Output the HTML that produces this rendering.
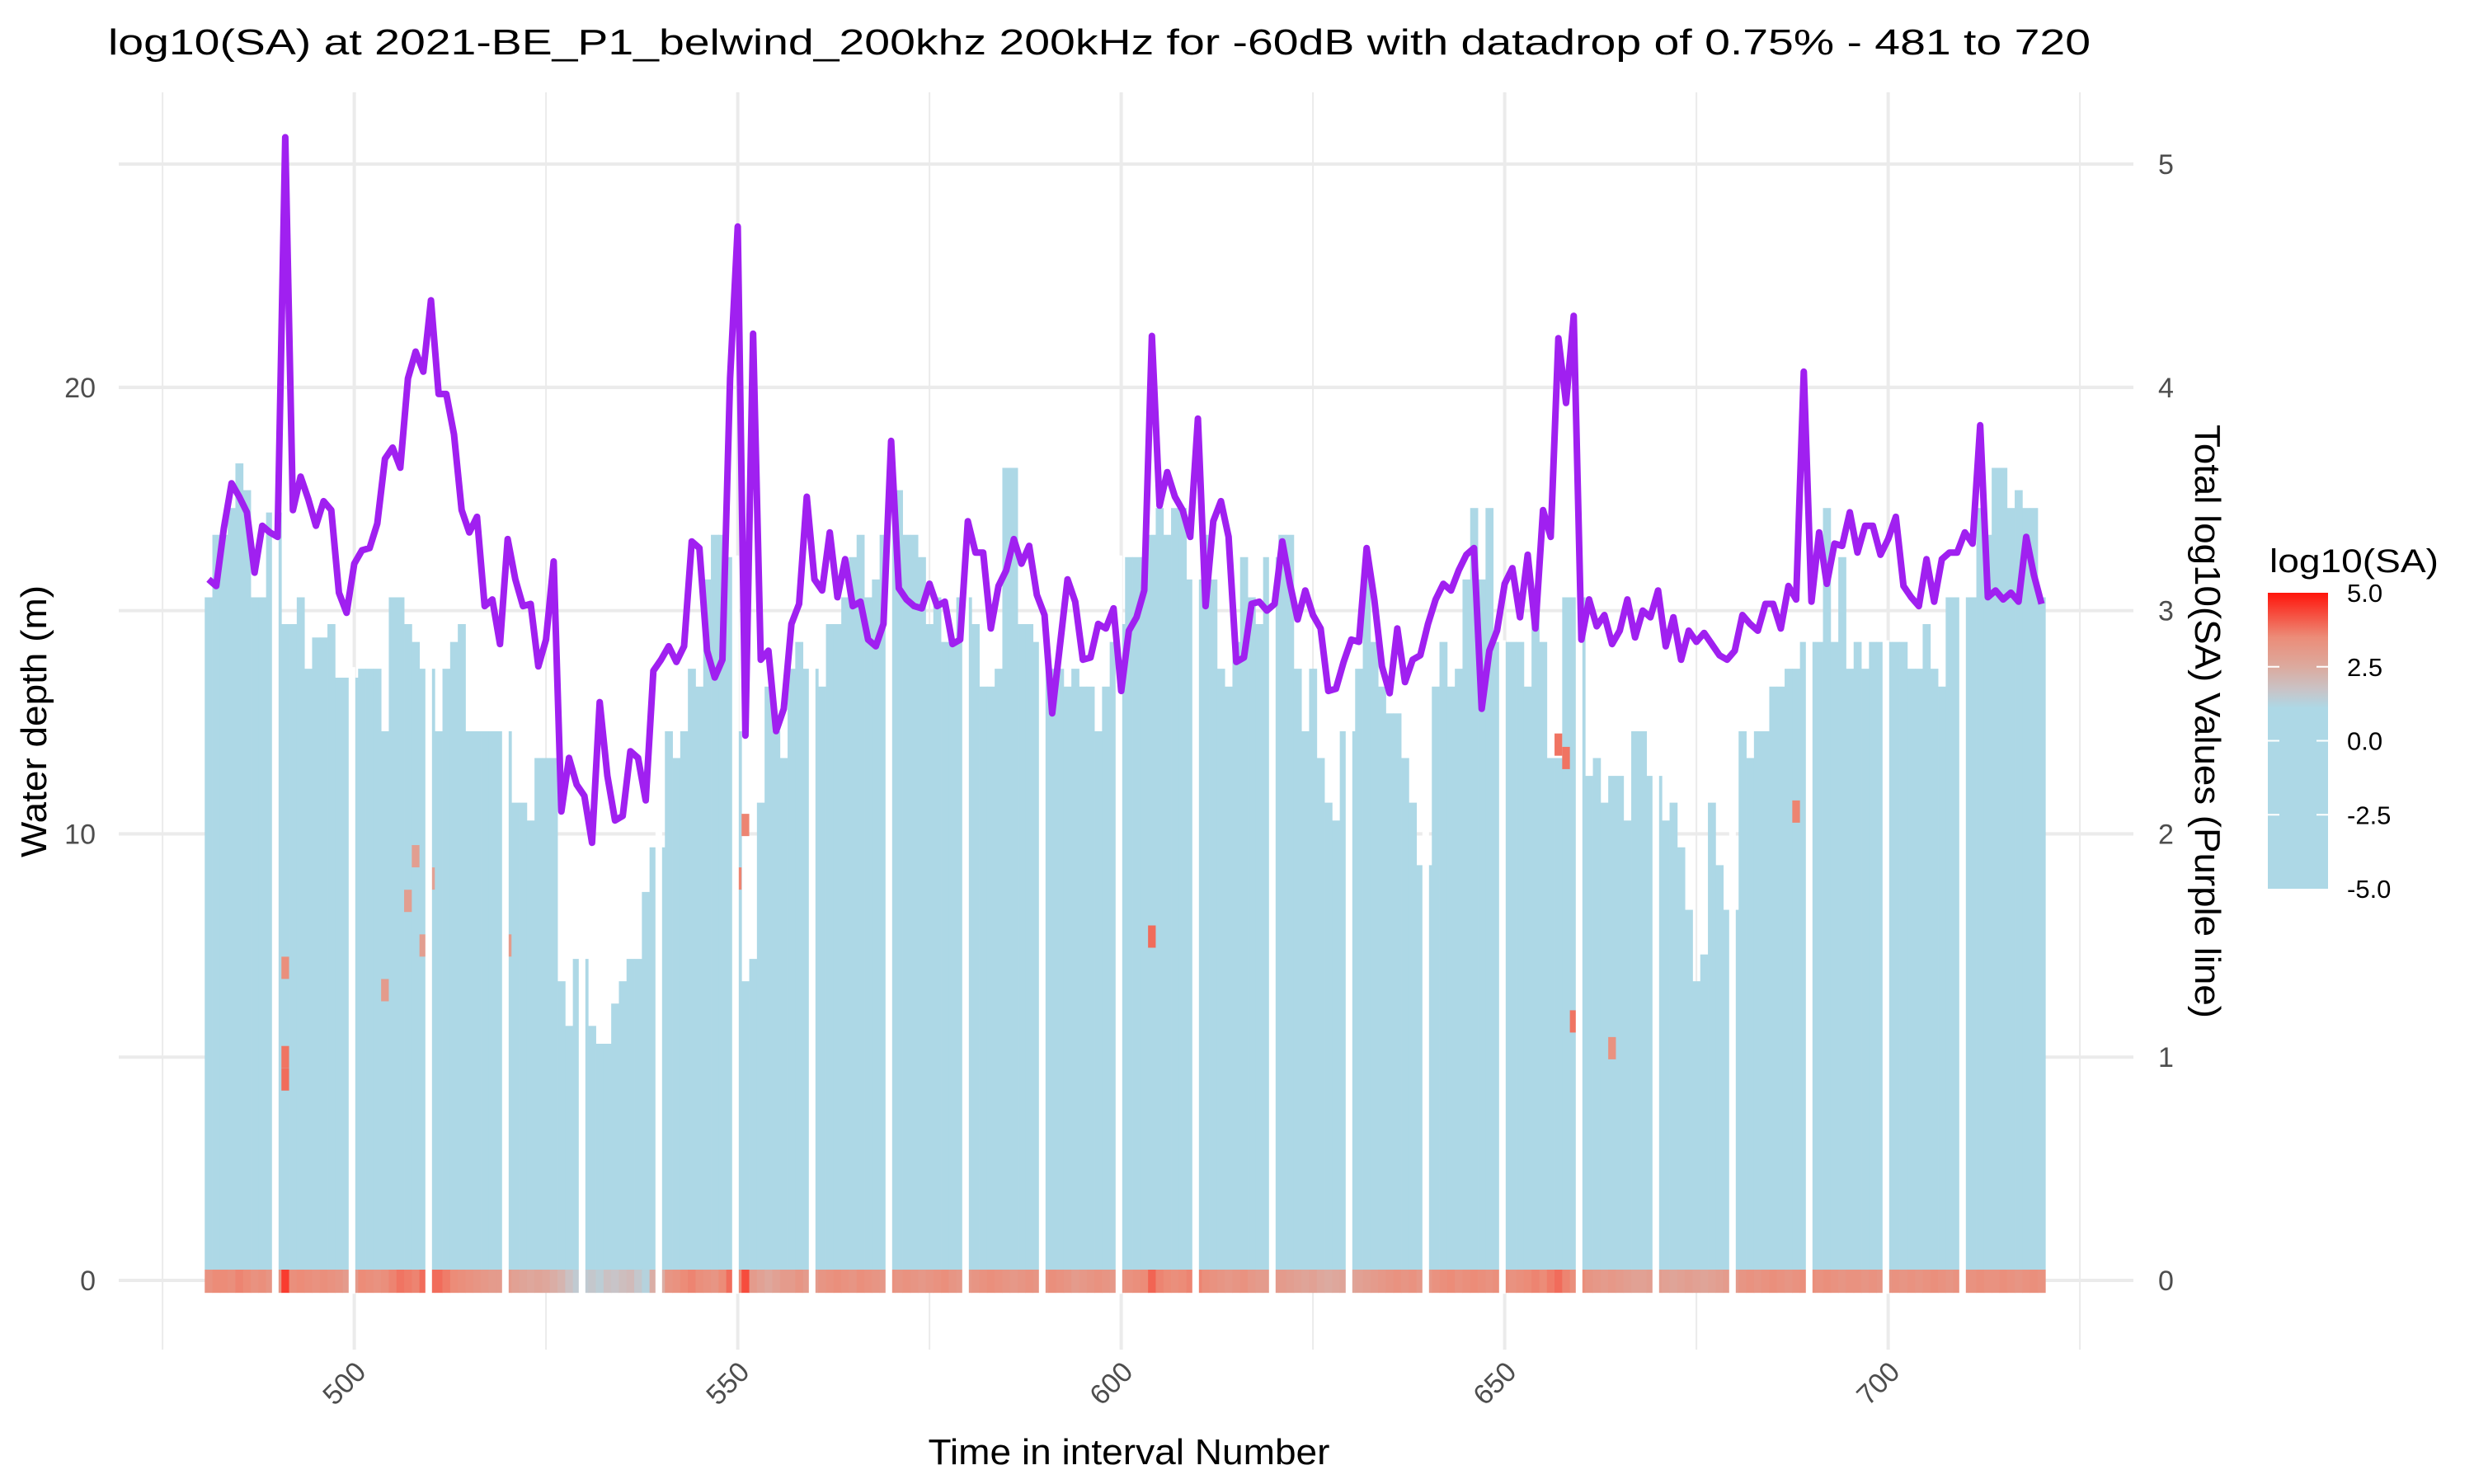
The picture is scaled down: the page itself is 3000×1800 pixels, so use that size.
<!DOCTYPE html>
<html><head><meta charset="utf-8"><style>
html,body{margin:0;padding:0;background:#fff}
svg{display:block;font-family:"Liberation Sans",Arial,sans-serif}
</style></head><body>
<svg id="chart" width="3000" height="1800" viewBox="0 0 3000 1800" xmlns="http://www.w3.org/2000/svg">
<rect x="0" y="0" width="3000" height="1800" fill="#fff"/>
<text x="131" y="66" font-size="44" textLength="2404" lengthAdjust="spacingAndGlyphs" fill="#000">log10(SA) at 2021-BE_P1_belwind_200khz 200kHz for -60dB with datadrop of 0.75% - 481 to 720</text>
<g id="grid"></g>
<g id="heat"></g>
<g id="lineg"></g>
<g id="axes"></g>
<text x="1369" y="1776" font-size="44" text-anchor="middle" textLength="487" lengthAdjust="spacingAndGlyphs" fill="#000">Time in interval Number</text>
<text transform="translate(56,875) rotate(-90)" font-size="44" text-anchor="middle" textLength="330" lengthAdjust="spacingAndGlyphs" fill="#000">Water depth (m)</text>
<text transform="translate(2662,875) rotate(90)" font-size="44" text-anchor="middle" textLength="720" lengthAdjust="spacingAndGlyphs" fill="#000">Total log10(SA) Values (Purple line)</text>
<g id="legend">
<defs><linearGradient id="lg" x1="0" y1="1" x2="0" y2="0">
<stop offset="0" stop-color="#add8e6"/><stop offset="0.61" stop-color="#add8e6"/><stop offset="0.67" stop-color="#c8c4c8"/><stop offset="0.75" stop-color="#dcaa9e"/><stop offset="0.85" stop-color="#ec8c78"/><stop offset="1" stop-color="#ff140a"/>
</linearGradient></defs>
<text x="2752" y="694" font-size="40" textLength="205" lengthAdjust="spacingAndGlyphs" fill="#000">log10(SA)</text>
<rect x="2750" y="719" width="73" height="359" fill="url(#lg)"/>
</g>
</svg>
<script>
const categories = [];
for (let i = 481; i <= 720; i++) categories.push(i);
const lineValues = [3.14,3.11,3.37,3.57,3.51,3.44,3.17,3.38,3.35,3.33,
5.12,3.45,3.6,3.5,3.38,3.49,3.45,3.08,2.99,3.21,
3.27,3.28,3.39,3.68,3.73,3.64,4.04,4.16,4.07,4.39,
3.97,3.97,3.79,3.45,3.35,3.42,3.02,3.05,2.85,3.32,
3.14,3.02,3.03,2.75,2.87,3.22,2.1,2.34,2.22,2.17,1.96,
2.59,2.26,2.06,2.08,2.37,2.34,2.15,2.73,2.78,2.84,
2.77,2.84,3.31,3.28,2.82,2.7,2.78,4.04,4.72,2.44,
4.24,2.78,2.82,2.46,2.56,2.94,3.03,3.51,3.14,3.09,
3.35,3.06,3.23,3.02,3.04,2.87,2.84,2.94,3.76,3.1,
3.05,3.02,3.01,3.12,3.02,3.04,2.85,2.87,3.4,3.26,
3.26,2.92,3.11,3.18,3.32,3.21,3.29,3.07,2.98,
2.54,2.84,3.14,3.04,2.78,2.79,2.94,2.92,3.01,2.64,
2.91,2.97,3.09,4.23,3.47,3.62,3.51,3.45,3.33,3.86,
3.02,3.4,3.49,3.33,2.77,2.79,3.03,3.04,3.0,3.03,
3.31,3.12,2.96,3.09,2.98,2.92,2.64,2.65,2.77,2.87,
2.86,3.28,3.05,2.75,2.63,2.92,2.68,2.78,2.8,2.94,
3.05,3.12,3.09,3.18,3.25,3.28,2.56,2.82,2.91,3.12,
3.19,2.97,3.25,2.92,3.45,3.33,4.22,3.93,4.32,2.87,
3.05,2.93,2.98,2.85,2.91,3.05,2.88,3.0,2.97,3.09,
2.84,2.97,2.78,2.91,2.86,2.9,2.85,2.8,2.78,2.82,
2.98,2.94,2.91,3.03,3.03,2.92,3.11,3.05,4.07,3.04,
3.35,3.12,3.3,3.29,3.44,3.26,3.38,3.38,3.25,3.32,
3.42,3.11,3.06,3.02,3.23,3.04,3.23,3.26,3.26,3.35,
3.3,3.83,3.06,3.09,3.05,3.08,3.04,3.33,3.16,3.03];
const columnTops = [15.3,16.7,16.7,17.3,18.3,17.7,15.3,15.3,17.2,17.2,
14.7,14.7,15.3,13.7,14.4,14.4,14.7,13.5,13.5,13.5,
13.7,13.7,13.7,12.3,15.3,15.3,14.7,14.3,13.7,13.7,
12.3,13.7,14.3,14.7,12.3,12.3,12.3,12.3,12.3,12.3,
10.7,10.7,10.3,11.7,11.7,11.7,6.7,5.7,7.2,7.2,
5.7,5.3,5.3,6.2,6.7,7.2,7.2,8.7,9.7,9.7,
12.3,11.7,12.3,13.7,13.3,15.7,16.7,16.7,16.2,12.3,
6.7,7.2,10.7,13.3,12.3,11.7,13.7,14.3,13.7,13.7,
13.3,14.7,14.7,15.3,16.2,16.7,15.3,15.7,16.7,18.2,
17.7,16.7,16.7,16.2,14.7,15.3,14.3,14.3,15.3,15.3,
14.7,13.3,13.3,13.7,18.2,18.2,14.7,14.7,14.3,14.3,
13.7,13.7,13.3,13.7,13.3,13.3,12.3,13.3,14.3,14.7,
16.2,16.2,16.2,16.7,17.3,16.7,17.3,17.3,15.7,15.7,
16.7,15.7,13.7,13.3,14.3,16.2,15.3,14.7,16.2,16.2,
16.7,16.7,13.7,12.3,13.7,11.7,10.7,10.3,12.3,12.3,
13.7,16.2,14.3,13.3,12.7,12.7,11.7,10.7,9.3,9.3,
13.3,14.3,13.3,13.7,15.7,17.3,15.7,17.3,14.3,14.3,
14.3,14.3,13.3,15.3,14.3,11.7,11.7,15.3,15.3,15.3,
11.3,11.7,10.7,11.3,11.3,10.3,12.3,12.3,11.3,11.3,
10.3,10.7,9.7,8.3,6.7,7.3,10.7,9.3,8.3,8.3,
12.3,11.7,12.3,12.3,13.3,13.3,13.7,13.7,14.3,14.3,
14.3,17.3,14.3,16.2,13.7,14.3,13.7,14.3,14.3,14.3,
14.3,14.3,13.7,13.7,14.7,13.7,13.3,15.3,15.3,15.3,
15.3,17.3,16.7,18.2,18.2,17.3,17.7,17.3,17.3,15.3];
const bottomValues = [3.3,3.5,3.5,3.4,3.6,3.5,3.3,3.4,3.2,3.2,
4.5,3.4,3.5,3.4,3.3,3.4,3.3,3.2,3.0,3.0,
3.5,3.4,3.3,3.4,3.6,3.8,3.7,3.6,3.9,3.9,
3.9,3.7,3.5,3.4,3.3,3.2,3.1,3.0,3.0,3.0,
2.8,2.7,2.6,2.7,2.6,2.4,2.2,1.8,1.5,1.5,
1.6,1.4,1.8,1.7,1.9,2.0,1.6,1.2,2.4,2.4,
3.2,3.3,3.5,3.6,3.4,3.3,3.2,3.5,3.9,3.5,
4.3,3.0,2.8,2.6,2.8,3.0,3.0,3.2,3.0,3.0,
3.2,3.3,3.4,3.3,3.2,3.4,3.3,3.2,3.1,3.3,
3.2,3.3,3.2,3.1,3.2,3.3,3.4,3.2,3.1,3.1,
3.2,3.3,3.4,3.3,3.2,3.1,3.2,3.3,3.2,3.2,
3.4,3.3,3.2,3.0,3.1,3.2,3.3,3.2,3.1,3.2,
3.3,3.4,3.5,4.0,3.6,3.5,3.4,3.5,3.6,3.6,
3.4,3.3,3.2,3.1,3.2,3.3,3.1,3.0,3.0,3.0,
3.0,2.9,2.8,2.7,2.8,2.6,2.5,2.6,2.7,2.7,
2.8,2.9,3.0,3.1,3.2,3.3,3.2,3.3,3.1,3.1,
3.3,3.4,3.5,3.3,3.4,3.5,3.4,3.3,3.4,3.4,
3.3,3.4,3.5,3.6,3.5,3.7,3.9,3.6,3.4,3.4,
3.2,3.1,3.0,3.1,3.0,2.9,2.8,2.8,2.9,2.9,
2.8,2.7,2.8,2.9,2.8,2.7,2.8,2.9,3.0,3.0,
3.2,3.3,3.2,3.3,3.4,3.3,3.2,3.3,3.4,3.4,
3.3,3.4,3.3,3.2,3.3,3.3,3.2,3.3,3.2,3.2,
3.3,3.2,3.3,3.2,3.3,3.4,3.3,3.2,3.3,3.3,
3.3,3.4,3.3,3.3,3.4,3.3,3.2,3.3,3.4,3.3];
const hotCellIntervals = [491,491,491,504,507,508,509,510,550,551,604,657,658,659,688,664,520];
const hotCellDepths   = [4.5,5.0,7.0,6.5,8.5,9.5,7.5,9.0,9.0,10.2,7.7,12.0,11.7,5.8,10.5,5.2,7.5];
const hotCellValues   = [3.9,3.8,3.4,3.0,2.9,2.9,2.9,2.8,3.6,3.6,3.9,3.8,3.8,3.8,3.6,3.3,3.0];
const xTicks = [500,550,600,650,700];
const xMinor = [475,525,575,625,675,725];
const leftTicks = [0,10,20];
const leftMinor = [5,15,25];
const rightTicks = [0,1,2,3,4,5];
const legendTicks = ["5.0","2.5","0.0","-2.5","-5.0"];

const NS = "http://www.w3.org/2000/svg";
const X = v => 429.6 + (v - 500) * 9.3;
const YL = d => 1553 - d * 54.15;
const YR = v => 1553 - v * 270.8;
const PL = 144, PR = 2587, PT = 112, PB = 1637;
function mk(tag, attrs, parent) {
  const e = document.createElementNS(NS, tag);
  for (const k in attrs) e.setAttribute(k, attrs[k]);
  parent.appendChild(e);
  return e;
}
function color(v) {
  const stops = [[-5,[173,216,230]],[1.0,[173,216,230]],[1.7,[200,196,200]],[2.5,[220,170,160]],[3.5,[236,140,120]],[5,[255,20,10]]];
  if (v <= stops[0][0]) return "rgb(173,216,230)";
  for (let i = 1; i < stops.length; i++) {
    if (v <= stops[i][0]) {
      const t = (v - stops[i-1][0]) / (stops[i][0] - stops[i-1][0]);
      const c = stops[i-1][1].map((a, j) => Math.round(a + (stops[i][1][j] - a) * t));
      return "rgb(" + c.join(",") + ")";
    }
  }
  return "rgb(255,20,10)";
}
const grid = document.getElementById("grid");
xMinor.forEach(v => {
  const l = mk("line", {x1: X(v), x2: X(v), y1: PT, y2: PB, stroke: "#ebebeb", "stroke-width": 2}, grid);
  
  
});
leftMinor.forEach(v => {
  const l = mk("line", {x1: PL, x2: PR, y1: YL(v), y2: YL(v), stroke: "#ebebeb", "stroke-width": 2}, grid);
  
  
});
xTicks.forEach(v => {
  const l = mk("line", {x1: X(v), x2: X(v), y1: PT, y2: PB, stroke: "#ebebeb", "stroke-width": 4}, grid);
  
  
});
leftTicks.forEach(v => {
  const l = mk("line", {x1: PL, x2: PR, y1: YL(v), y2: YL(v), stroke: "#ebebeb", "stroke-width": 4}, grid);
  
  
});
rightTicks.forEach(v => {
  const l = mk("line", {x1: PL, x2: PR, y1: YR(v), y2: YR(v), stroke: "#ebebeb", "stroke-width": 4}, grid);
  
  
});

const heat = document.getElementById("heat");
const W = 9.3;
categories.forEach((c, i) => {
  const x0 = X(c) - W / 2;
  const r = mk("rect", {x: x0, y: YL(columnTops[i]), width: W + 0.4, height: YL(0.24) - YL(columnTops[i]), fill: "#add8e6"}, heat);
  
  
  const b = mk("rect", {x: x0, y: YL(0.24), width: W + 0.4, height: YL(-0.28) - YL(0.24), fill: color(bottomValues[i])}, heat);
  
  
});
hotCellIntervals.forEach((c, i) => {
  const r = mk("rect", {x: X(c) - W / 2, y: YL(hotCellDepths[i] + 0.25), width: W, height: 27, fill: color(hotCellValues[i])}, heat);
  
  
});
categories.forEach((c, i) => {
  if ((c - 490) % 10 === 0 && c < 720) {
    const top = Math.max(columnTops[i], columnTops[i + 1] || 0, columnTops[i - 1] || 0);
    const g = mk("rect", {x: X(c - 0.3) - 4, y: YL(top) - 2, width: 8, height: YL(-0.3) - YL(top) + 2, fill: "#fff"}, heat);
    
    
  }
});

const lg = document.getElementById("lineg");
const pts = categories.map((c, i) => X(c).toFixed(1) + "," + YR(lineValues[i]).toFixed(1)).join(" ");
const pl = mk("polyline", {points: pts, fill: "none", stroke: "#a020f0", "stroke-width": 8, "stroke-linejoin": "round"}, lg);



const axes = document.getElementById("axes");
xTicks.forEach(v => {
  const t = mk("text", {transform: "translate(" + (X(v) + 16) + ",1666) rotate(-45)", "font-size": 34, "text-anchor": "end", fill: "#4d4d4d"}, axes);
  t.textContent = v;
  
  
});
leftTicks.forEach(v => {
  const t = mk("text", {x: 116, y: YL(v) + 12, "font-size": 34, "text-anchor": "end", fill: "#4d4d4d"}, axes);
  t.textContent = v;
  
  
});
rightTicks.forEach(v => {
  const t = mk("text", {x: 2617, y: YR(v) + 12, "font-size": 34, fill: "#4d4d4d"}, axes);
  t.textContent = v;
  
  
});
const leg = document.getElementById("legend");
legendTicks.forEach((s, i) => {
  const y = 719 + i * 89.75;
  const t = mk("text", {x: 2846, y: y + 11, "font-size": 31, fill: "#000"}, leg);
  t.textContent = s;
  
  
  if (i > 0 && i < 4) {
    const a = mk("line", {x1: 2750, x2: 2764, y1: y, y2: y, stroke: "#fff", "stroke-width": 2}, leg);
    
    
    const b = mk("line", {x1: 2809, x2: 2823, y1: y, y2: y, stroke: "#fff", "stroke-width": 2}, leg);
    
    
  }
});
</script>
</body></html>
